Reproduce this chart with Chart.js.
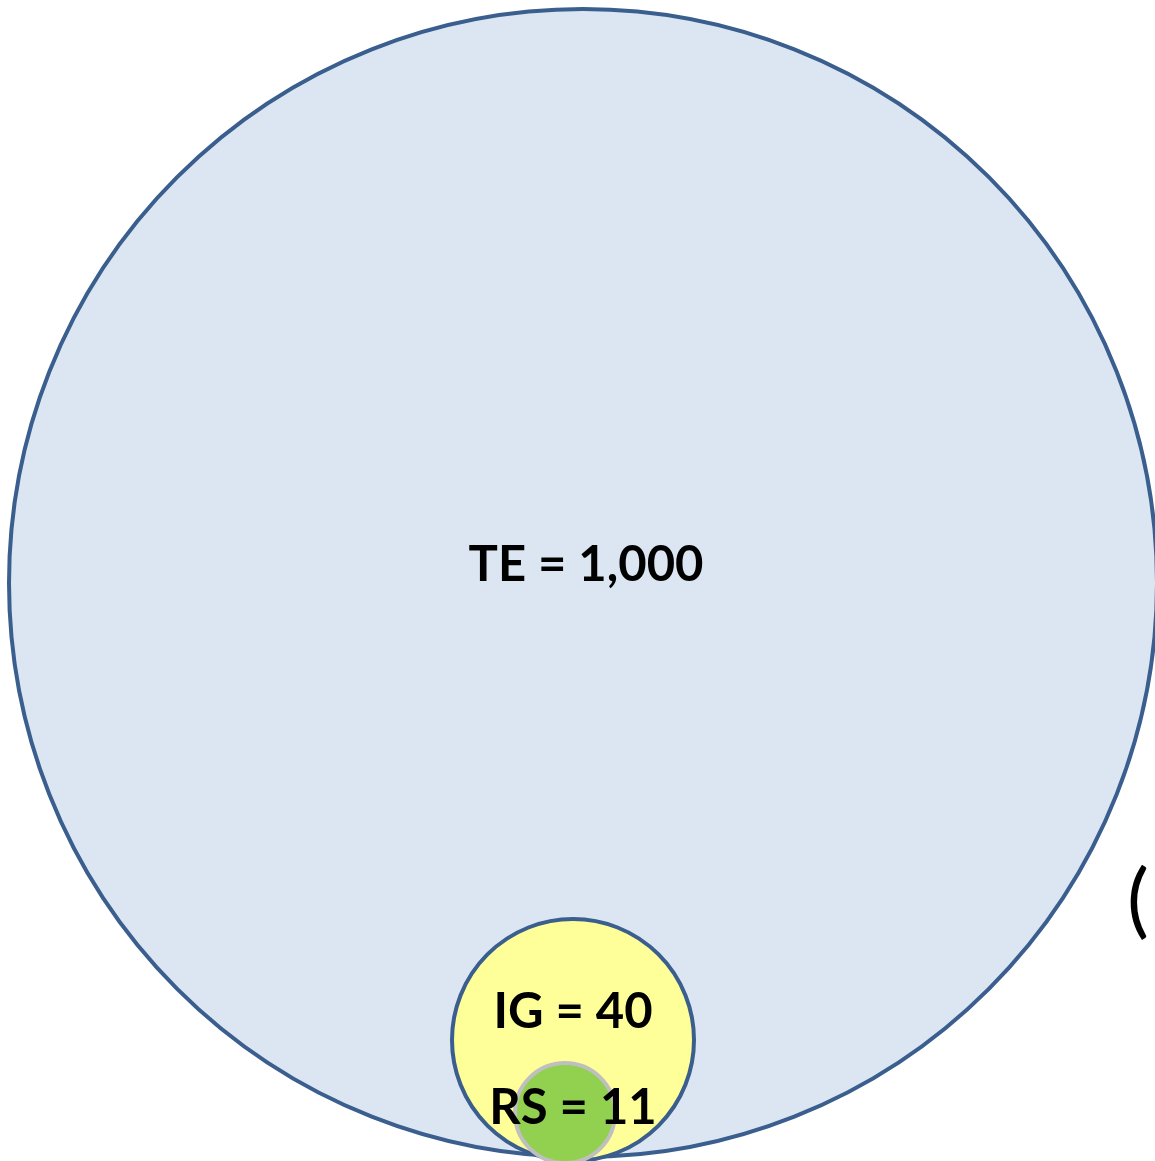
<!DOCTYPE html>
<html>
<head>
<meta charset="utf-8">
<script src="https://cdn.jsdelivr.net/npm/chart.js@4"></script>
<style>
    html, body { margin: 0; padding: 0; background: #ffffff; }
    #wrap { width: 1155px; height: 1161px; overflow: hidden; }
</style>
</head>
<body>
<div id="wrap"><canvas id="venn" width="1155" height="1161"></canvas></div>
<script>
// nested circles: total, inner group, sub-group
const labels = ['TE', 'IG', 'RS'];
const counts = [1000, 40, 11];
// circle centres and radii (plot units)
const centerX = [583, 573, 565];
const centerY = [583, 1040, 1113];
const radius = [574, 121, 50];
// label anchor points (plot units)
const labelX = [586, 573, 573];
const labelY = [565, 1012, 1108];

const fills = ['#dce6f2', '#ffff99', '#92d050'];
const strokes = ['#3a5e8d', '#3a5e8d', '#bfbfbf'];

function fmt(n) {
    return n.toLocaleString('en-US');
}

const labelPlugin = {
    id: 'circleLabels',
    afterDatasetsDraw(chart) {
        const ctx = chart.ctx;
        const xs = chart.scales.x;
        const ys = chart.scales.y;
        ctx.save();
        ctx.fillStyle = '#000000';
        ctx.textAlign = 'center';
        ctx.textBaseline = 'middle';
        ctx.font = 'bold 49px Lato';
        labels.forEach(function(l, i) {
            ctx.fillText(l + ' = ' + fmt(counts[i]),
                xs.getPixelForValue(labelX[i]), ys.getPixelForValue(labelY[i]));
        });
        // cut-off bracket at the right edge
        ctx.textAlign = 'left';
        ctx.font = '82px Lato';
        ctx.fillText('(', xs.getPixelForValue(1127), ys.getPixelForValue(902));
        ctx.restore();
    }
};

// first dataset (the big circle) has to sit underneath, so it gets the highest order
const datasets = labels.map(function(l, i) {
    return {
        label: l,
        data: [{ x: centerX[i], y: centerY[i], r: radius[i] }],
        backgroundColor: fills[i],
        borderColor: strokes[i],
        borderWidth: 4,
        order: labels.length - i,
        clip: false
    };
});

new Chart(document.getElementById('venn').getContext('2d'), {
    type: 'bubble',
    data: { datasets: datasets },
    options: {
        responsive: false,
        animation: false,
        events: [],
        layout: { padding: 0, autoPadding: false },
        plugins: {
            legend: { display: false },
            tooltip: { enabled: false }
        },
        scales: {
            x: { type: 'linear', min: 0, max: 1155, display: false },
            y: { type: 'linear', min: 0, max: 1161, reverse: true, display: false }
        }
    },
    plugins: [labelPlugin]
});
</script>
</body>
</html>
